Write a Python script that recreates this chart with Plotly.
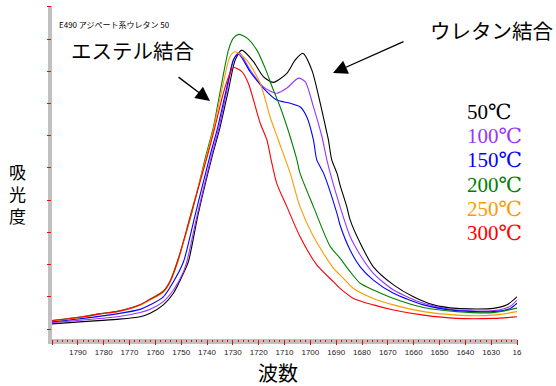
import plotly.graph_objects as go

# ---------------- data ----------------
temps = ["50℃", "100℃", "150℃", "200℃", "250℃", "300℃"]
colors = ["#000000", "#9933ff", "#0000ff", "#008000", "#ff9900", "#ff0000"]

wn_50 = [1800.0, 1787.9, 1774.9, 1765.9, 1762.0, 1756.9, 1753.0, 1749.1, 1747.2, 1743.5,
         1738.2, 1734.9, 1731.7, 1729.1, 1726.5, 1722.0, 1718.2, 1714.3, 1709.1, 1705.9,
         1702.9, 1699.4, 1696.2, 1693.6, 1693.0, 1691.7, 1689.7, 1688.5, 1685.9, 1684.6,
         1680.7, 1675.6, 1667.8, 1660.1, 1652.3, 1643.3, 1629.1, 1623.9, 1620.0]
abs_50 = [0.016, 0.023, 0.030, 0.038, 0.049, 0.075, 0.111, 0.173, 0.209, 0.354,
          0.530, 0.628, 0.742, 0.835, 0.866, 0.830, 0.784, 0.766, 0.794, 0.835,
          0.856, 0.804, 0.702, 0.609, 0.587, 0.525, 0.484, 0.447, 0.380, 0.339,
          0.267, 0.193, 0.137, 0.100, 0.075, 0.064, 0.064, 0.075, 0.100]

wn_100 = [1800.0, 1787.9, 1774.9, 1765.9, 1762.0, 1756.9, 1753.0, 1749.1, 1747.8, 1743.8,
          1738.5, 1735.3, 1732.0, 1729.5, 1727.5, 1723.3, 1718.2, 1713.0, 1709.1, 1704.6,
          1702.0, 1698.8, 1695.5, 1693.6, 1692.3, 1688.5, 1684.6, 1680.7, 1675.6, 1667.8,
          1656.2, 1643.3, 1629.1, 1622.6, 1620.0]
abs_100 = [0.020, 0.028, 0.038, 0.051, 0.061, 0.085, 0.121, 0.178, 0.209, 0.354,
           0.530, 0.628, 0.752, 0.841, 0.858, 0.804, 0.752, 0.732, 0.748, 0.779,
           0.768, 0.690, 0.597, 0.525, 0.484, 0.380, 0.287, 0.230, 0.173, 0.121,
           0.080, 0.059, 0.057, 0.071, 0.090]

wn_150 = [1800.0, 1787.9, 1774.9, 1765.9, 1762.0, 1756.9, 1753.0, 1749.1, 1744.6, 1739.1,
          1735.8, 1732.3, 1729.8, 1727.8, 1723.3, 1718.2, 1713.0, 1707.8, 1704.0, 1701.4,
          1698.8, 1697.5, 1694.9, 1689.7, 1688.5, 1684.6, 1680.7, 1675.6, 1667.8, 1656.2,
          1643.3, 1629.1, 1622.6, 1620.0]
abs_150 = [0.023, 0.033, 0.047, 0.061, 0.075, 0.100, 0.147, 0.209, 0.354, 0.530,
           0.628, 0.752, 0.835, 0.854, 0.799, 0.748, 0.711, 0.701, 0.690, 0.659,
           0.587, 0.525, 0.484, 0.359, 0.323, 0.245, 0.193, 0.152, 0.111, 0.075,
           0.057, 0.054, 0.064, 0.080]

wn_200 = [1800.0, 1794.3, 1787.9, 1781.4, 1774.9, 1769.8, 1765.9, 1762.0, 1756.9, 1754.3,
          1751.7, 1745.8, 1740.7, 1737.5, 1734.3, 1731.7, 1729.8, 1727.8, 1724.6, 1720.7,
          1717.5, 1714.3, 1711.7, 1707.8, 1705.2, 1704.0, 1698.8, 1692.3, 1688.5, 1684.6,
          1680.7, 1675.6, 1667.8, 1656.2, 1643.3, 1629.1, 1620.0]
abs_200 = [0.026, 0.032, 0.039, 0.048, 0.055, 0.065, 0.075, 0.093, 0.118, 0.149,
           0.205, 0.363, 0.530, 0.628, 0.763, 0.866, 0.903, 0.915, 0.904, 0.866,
           0.810, 0.742, 0.690, 0.597, 0.525, 0.484, 0.380, 0.256, 0.220, 0.178,
           0.142, 0.121, 0.095, 0.067, 0.054, 0.051, 0.065]

wn_250 = [1800.0, 1794.3, 1787.9, 1781.4, 1774.9, 1769.8, 1765.9, 1762.0, 1756.9, 1754.3,
          1751.2, 1745.8, 1740.4, 1737.3, 1733.7, 1731.1, 1729.1, 1724.6, 1719.4, 1715.6,
          1712.4, 1707.8, 1704.0, 1698.8, 1691.1, 1688.5, 1683.3, 1675.6, 1667.8, 1656.2,
          1643.3, 1629.1, 1620.0]
abs_250 = [0.025, 0.030, 0.037, 0.046, 0.053, 0.063, 0.074, 0.090, 0.115, 0.146,
           0.211, 0.370, 0.530, 0.628, 0.763, 0.846, 0.861, 0.835, 0.763, 0.659,
           0.587, 0.484, 0.380, 0.287, 0.189, 0.168, 0.126, 0.095, 0.075, 0.054,
           0.043, 0.043, 0.054]

wn_300 = [1800.0, 1794.3, 1787.9, 1781.4, 1774.9, 1769.8, 1765.9, 1762.0, 1756.9, 1754.3,
          1751.2, 1745.8, 1740.1, 1736.9, 1733.7, 1731.1, 1729.8, 1726.5, 1724.0, 1719.4,
          1716.8, 1715.3, 1713.0, 1709.1, 1704.0, 1697.5, 1691.1, 1688.5, 1683.3, 1675.6,
          1667.8, 1656.2, 1643.3, 1629.1, 1620.0]
abs_300 = [0.026, 0.031, 0.038, 0.047, 0.054, 0.064, 0.075, 0.092, 0.116, 0.147,
           0.214, 0.370, 0.530, 0.628, 0.732, 0.794, 0.812, 0.799, 0.763, 0.639,
           0.587, 0.530, 0.452, 0.380, 0.287, 0.199, 0.147, 0.126, 0.095, 0.075,
           0.059, 0.043, 0.033, 0.033, 0.038]

wavenumbers = [wn_50, wn_100, wn_150, wn_200, wn_250, wn_300]
absorbances = [abs_50, abs_100, abs_150, abs_200, abs_250, abs_300]

sample_label = "E490 アジペート系ウレタン 50"
ester_label = "エステル結合"
urethane_label = "ウレタン結合"
x_title = "波数"
y_title = "吸光度"

# ---------------- figure ----------------
W, H = 556, 386
L, R, T, B = 52, 517, 6, 339  # plot area in pixels


def px(p):
    return (p - L) / (R - L)


def py(p):
    return (B - p) / (B - T)


fig = go.Figure()
for i in range(len(temps)):
    fig.add_trace(go.Scatter(
        x=wavenumbers[i], y=absorbances[i], mode="lines", name=temps[i],
        line=dict(color=colors[i], width=1.1, shape="spline", smoothing=0.7),
        showlegend=False, hoverinfo="skip"))

fig.update_layout(
    width=W, height=H,
    margin=dict(l=L, r=W - R, t=T, b=H - B),
    paper_bgcolor="white", plot_bgcolor="white",
    xaxis=dict(range=[1800, 1620], showgrid=False, zeroline=False, showline=False,
               tickmode="linear", tick0=1800, dtick=10,
               ticks="outside", ticklen=5, tickwidth=1, tickcolor="#ff0000",
               minor=dict(tickmode="linear", tick0=1800, dtick=2, ticks="outside",
                          ticklen=2, tickwidth=1, tickcolor="#ff0000"),
               labelalias={"1800": "", "1620": "16"},
               tickfont=dict(family="Liberation Sans, Arial", size=8, color="#222222")),
    yaxis=dict(range=[-0.031, 1.003], showgrid=False, zeroline=False, showline=False,
               tickmode="linear", tick0=0, dtick=0.1,
               ticks="outside", ticklen=4, tickwidth=1, tickcolor="#ff0000",
               showticklabels=False),
)

gray = "#c0c0c0"
fig.add_shape(type="rect", xref="paper", yref="paper", layer="below",
              x0=px(L - 4), x1=px(L), y0=py(B + 5), y1=1, fillcolor=gray, line_width=0)
fig.add_shape(type="rect", xref="paper", yref="paper", layer="below",
              x0=px(L - 4), x1=1, y0=py(B + 5), y1=0, fillcolor=gray, line_width=0)

jp = "Noto Sans CJK JP"

fig.add_annotation(xref="paper", yref="paper", x=px(57), y=py(24), text=sample_label,
                   showarrow=False, xanchor="left", yanchor="middle",
                   font=dict(family=jp, size=8, color="#000"))
fig.add_annotation(xref="paper", yref="paper", x=px(69), y=py(50), text=ester_label,
                   showarrow=False, xanchor="left", yanchor="middle",
                   font=dict(family=jp, size=20.5, color="#000"))
fig.add_annotation(xref="paper", yref="paper", x=px(428), y=py(30), text=urethane_label,
                   showarrow=False, xanchor="left", yanchor="middle",
                   font=dict(family=jp, size=20.5, color="#000"))

# arrows
fig.add_annotation(xref="paper", yref="paper", x=px(210), y=py(101), ax=177 - 210, ay=76 - 101,
                   text="", showarrow=True, arrowhead=2, arrowsize=2.2, arrowwidth=1.3,
                   arrowcolor="#000")
fig.add_annotation(xref="paper", yref="paper", x=px(333), y=py(73), ax=405 - 333, ay=41 - 73,
                   text="", showarrow=True, arrowhead=2, arrowsize=2.2, arrowwidth=1.3,
                   arrowcolor="#000")

# temperature legend
for i, t in enumerate(temps):
    fig.add_annotation(xref="paper", yref="paper", x=px(465), y=py(111.7 + 24.3 * i), text=t,
                       showarrow=False, xanchor="left", yanchor="middle",
                       font=dict(family="Liberation Serif, DejaVu Serif, serif", size=21,
                                 color=colors[i]))

# axis titles
fig.add_annotation(xref="paper", yref="paper", x=px(17.5), y=py(193), text="<br>".join(y_title),
                   showarrow=False, xanchor="center", yanchor="middle",
                   font=dict(family=jp, size=17, color="#000"))
fig.add_annotation(xref="paper", yref="paper", x=px(277.5), y=py(372), text=x_title,
                   showarrow=False, xanchor="center", yanchor="middle",
                   font=dict(family=jp, size=20, color="#000"))

fig.write_html("out.html",
               config={"displayModeBar": False},
               post_script="document.body.style.margin='0';document.body.style.padding='0';"
                           "document.body.style.overflow='hidden';")
